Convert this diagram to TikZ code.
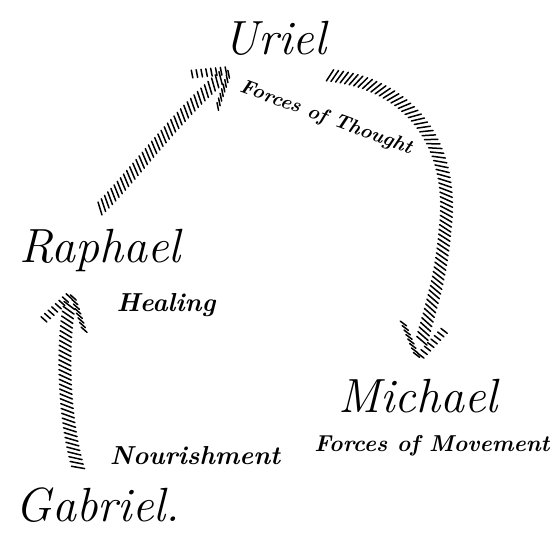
\documentclass[tikz,border=0pt]{standalone}
\usetikzlibrary{decorations.markings}
\tikzset{
  tick/.style={line width=1.5pt, line cap=round},
  hatch/.style={decorate, decoration={markings,
    mark=between positions 0 and 0.95 step 4.8pt with {\draw[tick] (-3pt,-6pt) -- (3pt,6pt);},
    mark=at position 0.999 with {
      \foreach \t in {0.1,0.22,...,1.01} {
        \draw[tick] ({-34pt*\t},{22pt*\t}) ++(-1.8pt,-3.5pt) -- ++(3.6pt,7pt);
        \draw[tick] ({-34pt*\t},{-22pt*\t}) ++(-1.8pt,-3.5pt) -- ++(3.6pt,7pt);
      }}}},
  angel/.style={font=\fontsize{48}{52}\selectfont\itshape, inner sep=0pt},
  lab/.style={font=\fontsize{26}{30}\selectfont\bfseries\itshape, inner sep=0pt}
}
\begin{document}
\begin{tikzpicture}[x=1pt,y=-1pt]
\useasboundingbox[fill=white] (0,0) rectangle (554,536);
\node[angel] (uriel) at (275,38) {Uriel};
\node[angel] (raphael) at (100,250) {Raphael};
\node[angel] (michael) at (418,396) {Michael};
\node[angel] (gabriel) at (98,505) {Gabriel.};
\node[lab, rotate=-20, font=\fontsize{20}{24}\selectfont\bfseries\itshape] (thought) at (326,118) {Forces of Thought};
\node[lab] (healing) at (166,305) {Healing};
\node[lab, font=\fontsize{23}{27}\selectfont\bfseries\itshape] (movement) at (432,446) {Forces of Movement};
\node[lab] (nourish) at (195,456) {Nourishment};
% connector end points
\coordinate (a0) at ([shift={(-20,-20)}]gabriel.north);
\coordinate (a1) at ([shift={(-28,22)}]raphael.south);
\coordinate (b0) at ([shift={(0,-20)}]raphael.north);
\coordinate (b1) at ([shift={(-45,15)}]uriel.south);
\coordinate (c0) at ([shift={(55,20)}]uriel.south);
\coordinate (c1) at ([shift={(0,-20)}]michael.north);
\path[hatch] (a0) .. controls (64,420) and (60,340) .. (a1);
\path[hatch] (b0) .. controls (130,180) and (180,110) .. (b1);
\path[hatch] (c0) .. controls (415,85) and (455,150) .. (445,230) .. controls (440,290) and (425,320) .. (c1);
\end{tikzpicture}
\end{document}
